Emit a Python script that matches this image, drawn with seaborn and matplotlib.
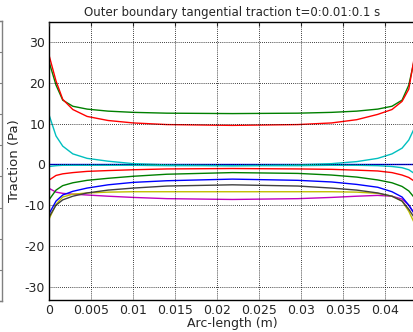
import numpy as np
import pandas as pd
import seaborn as sns
import matplotlib.pyplot as plt

# arc-length sample points (m)
arc = [0, 0.0008, 0.0016, 0.0028, 0.0045, 0.007, 0.01, 0.014, 0.0218,
       0.0296, 0.0336, 0.0366, 0.0391, 0.0408, 0.042, 0.0428, 0.0436]

# tangential traction (Pa) for t = 0:0.01:0.1 s
t000 = [0] * 17
t001 = [25.0, 19.5, 15.8, 14.3, 13.6, 13.1, 12.8, 12.6, 12.5, 12.6, 12.8, 13.1, 13.6, 14.3, 15.8, 19.5, 27.0]
t002 = [26.6, 20.5, 16.0, 13.5, 11.8, 10.8, 10.2, 9.8, 9.6, 9.8, 10.2, 11.0, 12.3, 13.5, 15.5, 18.5, 28.0]
t003 = [12.0, 7.0, 4.5, 2.6, 1.5, 0.8, 0.2, -0.1, -0.3, -0.1, 0.2, 0.7, 1.5, 2.6, 4.0, 6.0, 9.5]
t004 = [-5.9, -6.8, -7.1, -7.3, -7.5, -7.8, -8.1, -8.4, -8.6, -8.4, -8.1, -7.8, -7.6, -7.8, -8.5, -10.0, -12.5]
t005 = [-13.3, -9.8, -8.0, -7.3, -7.0, -6.8, -6.7, -6.7, -6.7, -6.7, -6.7, -6.8, -7.1, -7.8, -9.0, -11.5, -15.0]
t006 = [-12.8, -10.0, -8.7, -7.8, -7.0, -6.3, -5.8, -5.3, -5.0, -5.3, -5.8, -6.3, -7.0, -7.8, -9.0, -11.0, -13.5]
t007 = [-12.0, -9.0, -7.5, -6.6, -5.8, -5.0, -4.4, -4.0, -3.6, -3.9, -4.3, -4.9, -5.6, -6.7, -8.0, -10.0, -12.5]
t008 = [-8.6, -6.3, -5.2, -4.5, -3.9, -3.4, -2.9, -2.4, -2.0, -2.2, -2.6, -3.1, -3.8, -4.5, -5.4, -6.5, -8.5]
t009 = [-3.8, -2.7, -2.3, -2.0, -1.7, -1.5, -1.3, -1.1, -1.0, -1.1, -1.2, -1.4, -1.6, -2.0, -2.6, -3.2, -4.3]
t010 = [-0.5, -0.3, -0.2, -0.2, -0.2, -0.2, -0.2, -0.3, -0.3, -0.3, -0.2, -0.2, -0.3, -0.5, -0.8, -1.3, -2.4]

times = ["0", "0.01", "0.02", "0.03", "0.04", "0.05", "0.06", "0.07", "0.08", "0.09", "0.1"]
series = [t000, t001, t002, t003, t004, t005, t006, t007, t008, t009, t010]

# old MATLAB colour order b g r c m y k
matlab = [(0, 0, 1), (0, 0.5, 0), (1, 0, 0), (0, 0.75, 0.75),
          (0.75, 0, 0.75), (0.75, 0.75, 0), (0.25, 0.25, 0.25)]
palette = [matlab[i % 7] for i in range(len(times))]

df = pd.concat([pd.DataFrame({"x": arc, "y": vals, "t": t})
                for t, vals in zip(times, series)], ignore_index=True)

sns.set_style("white")
plt.rcParams["font.family"] = ["DejaVu Sans"]
plt.rcParams["axes.unicode_minus"] = False

fig = plt.figure(figsize=(4.13, 3.32), dpi=100)

# sliver of the neighbouring panel at the left edge
side = fig.add_axes([-0.5, 0.093, 0.5055, 0.845])
side.set_xticks([])
side.set_yticks(np.linspace(0, 1, 10))
side.yaxis.tick_right()
side.tick_params(axis="y", direction="in", length=2, color="0.5", labelright=False)
for s in side.spines.values():
    s.set_color("0.5")
    s.set_linewidth(1)

ax = fig.add_axes([49.3 / 413, 1 - 300 / 332, 366.2 / 413, 278 / 332])
sns.lineplot(data=df, x="x", y="y", hue="t", palette=palette, sort=False,
             estimator=None, linewidth=1.0, legend=False, ax=ax)

ax.set_xlim(0, 0.0436)
ax.set_ylim(-33.3, 35)
ax.set_xticks([0, 0.005, 0.01, 0.015, 0.02, 0.025, 0.03, 0.035, 0.04])
ax.set_xticklabels(["0", "0.005", "0.01", "0.015", "0.02", "0.025", "0.03", "0.035", "0.04"])
ax.set_yticks([-30, -20, -10, 0, 10, 20, 30])
ax.tick_params(direction="in", length=3, labelsize=9, pad=3, top=True, right=True)
ax.grid(True, color="black", linestyle=(0, (1, 1.5)), linewidth=0.6)
ax.set_axisbelow(False)
for s in ax.spines.values():
    s.set_color("black")
    s.set_linewidth(1)

ax.set_title("Outer boundary tangential traction t=0:0.01:0.1 s", fontsize=8.5, pad=4)
ax.set_xlabel("Arc-length (m)", fontsize=9, labelpad=0)
ax.set_ylabel("Traction (Pa)", fontsize=9.5, labelpad=3)

fig.savefig("out.png", dpi=100)
